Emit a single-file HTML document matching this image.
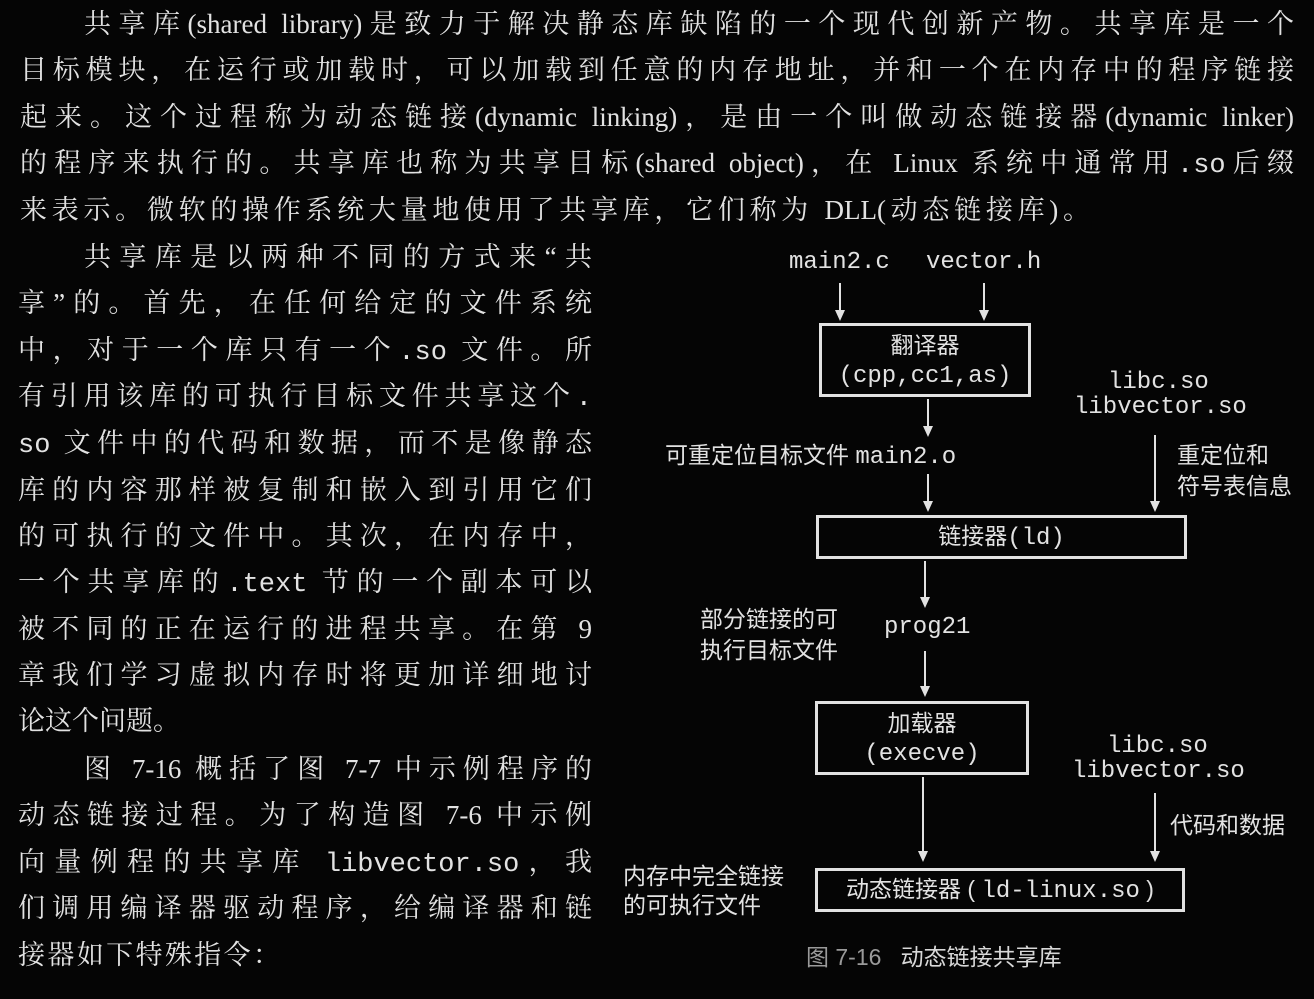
<!DOCTYPE html>
<html><head><meta charset="utf-8"><style>
body{margin:0;background:#050505;width:1314px;height:999px;overflow:hidden;position:relative;color:#e2e2e2;font-family:"Liberation Serif","Noto Serif CJK SC",serif}
.l{position:absolute;font-size:27px;line-height:32px;white-space:nowrap;text-align:justify;text-align-last:justify}
.m{font-family:"Liberation Mono","Noto Sans CJK SC",monospace}
.d{position:absolute;font-size:23px;line-height:26px;white-space:nowrap;font-family:"Liberation Sans","Noto Sans CJK SC",sans-serif}
.mm{position:absolute;font-size:24px;line-height:26px;white-space:nowrap;font-family:"Liberation Mono",monospace}
.box{position:absolute;border:3px solid #e2e2e2;box-sizing:border-box;text-align:center;font-family:"Liberation Sans","Noto Sans CJK SC",sans-serif;font-size:23px;line-height:29px}
.box span{font-family:"Liberation Mono",monospace;font-size:24px}
</style></head><body>
<div class="l" style="left:84px;top:8px;width:1210px">共享库(shared library)是致力于解决静态库缺陷的一个现代创新产物。共享库是一个</div>
<div class="l" style="left:20px;top:54px;width:1274px">目标模块，在运行或加载时，可以加载到任意的内存地址，并和一个在内存中的程序链接</div>
<div class="l" style="left:20px;top:101px;width:1274px">起来。这个过程称为动态链接(dynamic linking)，是由一个叫做动态链接器(dynamic linker)</div>
<div class="l" style="left:20px;top:147px;width:1274px">的程序来执行的。共享库也称为共享目标(shared object)，在 Linux 系统中通常用<span class="m">.so</span>后缀</div>
<div class="l" style="left:20px;top:194px;width:1070px">来表示。微软的操作系统大量地使用了共享库，它们称为 DLL(动态链接库)。</div>

<div class="l" style="left:84px;top:241px;width:508px">共享库是以两种不同的方式来“共</div>
<div class="l" style="left:18px;top:287px;width:574px">享”的。首先，在任何给定的文件系统</div>
<div class="l" style="left:18px;top:334px;width:574px">中，对于一个库只有一个<span class="m">.so</span> 文件。所</div>
<div class="l" style="left:18px;top:380px;width:574px">有引用该库的可执行目标文件共享这个<span class="m">.</span></div>
<div class="l" style="left:18px;top:427px;width:574px"><span class="m">so</span> 文件中的代码和数据，而不是像静态</div>
<div class="l" style="left:18px;top:474px;width:574px">库的内容那样被复制和嵌入到引用它们</div>
<div class="l" style="left:18px;top:520px;width:574px">的可执行的文件中。其次，在内存中，</div>
<div class="l" style="left:18px;top:566px;width:574px">一个共享库的<span class="m">.text</span> 节的一个副本可以</div>
<div class="l" style="left:18px;top:613px;width:574px">被不同的正在运行的进程共享。在第 9</div>
<div class="l" style="left:18px;top:659px;width:574px">章我们学习虚拟内存时将更加详细地讨</div>
<div class="l" style="left:18px;top:705px;width:162px">论这个问题。</div>
<div class="l" style="left:84px;top:753px;width:508px">图 7-16 概括了图 7-7 中示例程序的</div>
<div class="l" style="left:18px;top:799px;width:574px">动态链接过程。为了构造图 7-6 中示例</div>
<div class="l" style="left:18px;top:846px;width:574px">向量例程的共享库 <span class="m">libvector.so</span>，我</div>
<div class="l" style="left:18px;top:892px;width:574px">们调用编译器驱动程序，给编译器和链</div>
<div class="l" style="left:18px;top:939px;width:262px">接器如下特殊指令：</div>

<div class="mm" style="left:789px;top:250px">main2.c</div>
<div class="mm" style="left:926px;top:250px">vector.h</div>
<div class="box" style="left:819px;top:323px;width:212px;height:74px;padding-top:5px">翻译器<br><span>(cpp,cc1,as)</span></div>
<div class="mm" style="left:1108px;top:370px">libc.so</div>
<div class="mm" style="left:1074px;top:395px">libvector.so</div>
<div class="d" style="left:665px;top:442px">可重定位目标文件 <span style="font-family:'Liberation Mono',monospace;font-size:24px">main2.o</span></div>
<div class="d" style="left:1177px;top:440px;line-height:31px">重定位和<br>符号表信息</div>
<div class="box" style="left:816px;top:515px;width:371px;height:44px;padding-top:4px">链接器<span>(ld)</span></div>
<div class="d" style="left:700px;top:604px;line-height:31px">部分链接的可<br>执行目标文件</div>
<div class="mm" style="left:884px;top:615px">prog21</div>
<div class="box" style="left:815px;top:701px;width:214px;height:74px;padding-top:5px">加载器<br><span>(execve)</span></div>
<div class="mm" style="left:1107px;top:734px">libc.so</div>
<div class="mm" style="left:1072px;top:759px">libvector.so</div>
<div class="d" style="left:1170px;top:812px">代码和数据</div>
<div class="d" style="left:623px;top:862px;line-height:29px">内存中完全链接<br>的可执行文件</div>
<div class="box" style="left:815px;top:868px;width:370px;height:44px;padding-top:4px">动态链接器 ( <span>ld-linux.so</span> )</div>
<div class="d" style="left:806px;top:944px;color:#9a9a9a">图 7-16 &nbsp; <span style="color:#d8d8d8">动态链接共享库</span></div>

<svg width="1314" height="999" style="position:absolute;left:0;top:0" fill="#e2e2e2" stroke="#e2e2e2" stroke-width="2">
<g>
<line x1="840" y1="283" x2="840" y2="316"/><polygon points="835,310 845,310 840,321" stroke="none"/>
<line x1="984" y1="283" x2="984" y2="316"/><polygon points="979,310 989,310 984,321" stroke="none"/>
<line x1="928" y1="399" x2="928" y2="432"/><polygon points="923,426 933,426 928,437" stroke="none"/>
<line x1="928" y1="474" x2="928" y2="507"/><polygon points="923,501 933,501 928,512" stroke="none"/>
<line x1="1155" y1="435" x2="1155" y2="507"/><polygon points="1150,501 1160,501 1155,512" stroke="none"/>
<line x1="925" y1="561" x2="925" y2="603"/><polygon points="920,597 930,597 925,608" stroke="none"/>
<line x1="925" y1="651" x2="925" y2="692"/><polygon points="920,686 930,686 925,697" stroke="none"/>
<line x1="923" y1="777" x2="923" y2="857"/><polygon points="918,851 928,851 923,862" stroke="none"/>
<line x1="1155" y1="793" x2="1155" y2="857"/><polygon points="1150,851 1160,851 1155,862" stroke="none"/>
</g></svg>
</body></html>
